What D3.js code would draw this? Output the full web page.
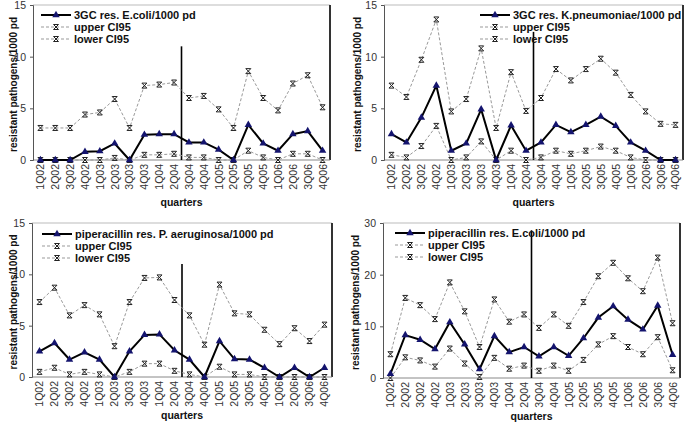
<!DOCTYPE html>
<html><head><meta charset="utf-8">
<script src="https://cdn.jsdelivr.net/npm/d3@7"></script>
<style>body{margin:0;background:#fff}svg{display:block;font-family:"Liberation Sans",Arial,sans-serif}</style>
</head><body>
<svg id="c" width="685" height="424"></svg>
<script>
const quarters = ["1Q02","2Q02","3Q02","4Q02","1Q03","2Q03","3Q03","4Q03","1Q04","2Q04","3Q04","4Q04","1Q05","2Q05","3Q05","4Q05","1Q06","2Q06","3Q06","4Q06"];

const titles = ["3GC res. E.coli/1000 pd","3GC res. K.pneumoniae/1000 pd","piperacillin res. P. aeruginosa/1000 pd","piperacillin res. E.coli/1000 pd"];
const yTicks = [[0,5,10,15],[0,5,10,15],[0,5,10,15],[0,10,20,30]];
const yMax = [15,15,15,30];
const interventionTop = [11,12.4,11,28.6];

const mainEcoli3GC = [0,0,0,0.8,0.85,1.6,0,2.45,2.5,2.5,1.7,1.7,1.0,0,3.4,1.6,0.9,2.5,2.8,0.9];
const upperEcoli3GC = [3.1,3.1,3.1,4.4,4.6,5.9,3.1,7.2,7.3,7.5,6.0,6.2,4.9,3.1,8.6,6.0,4.8,7.4,8.2,5.1];
const lowerEcoli3GC = [0,0,0,0,0,0.2,0,0.5,0.5,0.6,0.25,0.25,0,0,0.9,0.25,0,0.6,0.6,0];

const mainKpn = [2.5,1.7,4.1,7.2,0.9,1.6,4.9,0,3.35,0.9,1.7,3.4,2.7,3.4,4.2,3.3,1.7,0.9,0,0];
const upperKpn = [7.2,6.1,9.7,13.6,4.7,5.9,10.8,3.1,8.5,4.75,6.0,8.8,7.7,8.8,9.8,8.45,6.3,4.7,3.5,3.4];
const lowerKpn = [0.5,0.25,1.35,3.3,0,0.25,1.8,0,0.9,0,0.25,0.9,0.6,0.9,1.3,0.9,0.25,0,0,0];

const mainPae = [2.5,3.3,1.7,2.4,1.7,0,2.5,4.1,4.15,2.6,1.7,0,3.5,1.75,1.7,0.9,0,0.9,0,0.9];
const upperPae = [7.3,8.7,6.0,7.0,6.1,3.0,7.3,9.65,9.7,7.5,6.0,3.15,9.0,6.2,6.1,4.6,3.2,4.75,3.5,5.1];
const lowerPae = [0.5,0.9,0.25,0.5,0.25,0,0.5,1.3,1.3,0.6,0.25,0,1.0,0.25,0.25,0,0,0,0,0];

const mainEcoliPip = [0.8,8.3,7.4,5.6,10.8,6.5,1.7,8.1,5.0,6.0,4.2,6.0,4.3,7.7,11.7,13.9,11.3,9.4,14.0,4.5];
const upperEcoliPip = [4.6,15.5,14.1,11.4,18.5,12.9,6.0,15.2,10.9,12.3,9.7,12.3,10.1,14.7,19.7,22.3,19.3,16.8,23.3,10.6];
const lowerEcoliPip = [0,4.0,3.4,2.2,5.7,2.8,0.2,3.9,1.8,2.4,1.4,2.4,1.4,3.5,6.5,8.1,6.0,4.6,7.9,1.5];

const mainSeries = [mainEcoli3GC, mainKpn, mainPae, mainEcoliPip];
const upperSeries = [upperEcoli3GC, upperKpn, upperPae, upperEcoliPip];
const lowerSeries = [lowerEcoli3GC, lowerKpn, lowerPae, lowerEcoliPip];

const boxes = [
  {l:33,t:5,r:330,b:160, lx:41, ly:15, yt:13, xt:202},
  {l:384,t:5,r:683,b:160, lx:480, ly:15, yt:357, xt:202},
  {l:32,t:223,r:332,b:377, lx:42, ly:234, yt:13, xt:415},
  {l:383,t:223,r:680,b:378, lx:395, ly:233, yt:355, xt:416}
];

const svg = d3.select("#c");
const starPath = (s) => `M${-s},${-s}L${s},${s}M${-s},${s}L${s},${-s}M${-s},${-s}L${s},${-s}M${-s},${s}L${s},${s}`;

boxes.forEach((bx, p) => {
  const g = svg.append("g");
  const x = d3.scalePoint().domain(quarters).range([bx.l, bx.r]).padding(0.5);
  const y = d3.scaleLinear().domain([0, yMax[p]]).range([bx.b, bx.t]);

  // frame
  g.append("line").attr("x1",bx.l).attr("x2",bx.r).attr("y1",bx.t).attr("y2",bx.t).attr("stroke","#bbb").attr("stroke-width",1);
  g.append("line").attr("x1",bx.r).attr("x2",bx.r).attr("y1",bx.t).attr("y2",bx.b).attr("stroke","#333").attr("stroke-width",2);
  g.append("line").attr("x1",bx.l).attr("x2",bx.r).attr("y1",bx.b).attr("y2",bx.b).attr("stroke","#888").attr("stroke-width",1);

  // y axis
  const ya = g.append("g").attr("transform",`translate(${bx.l},0)`)
    .call(d3.axisLeft(y).tickValues(yTicks[p]).tickSize(3).tickPadding(4));
  ya.select(".domain").attr("stroke","#555");
  ya.selectAll(".tick line").attr("stroke","#555");
  ya.selectAll("text").attr("font-size",10.5).attr("fill","#333").attr("font-family","Liberation Sans, Arial, sans-serif");

  // x axis labels
  const xa = g.append("g").attr("transform",`translate(0,${bx.b})`)
    .call(d3.axisBottom(x).tickSize(0).tickPadding(0));
  xa.select(".domain").remove();
  xa.selectAll("text").attr("font-size",10.5).attr("fill","#333").attr("font-family","Liberation Sans, Arial, sans-serif")
    .attr("transform","rotate(-90)").attr("text-anchor","end").attr("dx","-4").attr("dy","0.33em").attr("y",0).attr("x",0);

  // axis titles
  g.append("text").attr("transform",`translate(${bx.yt},${(bx.t+bx.b)/2+2}) rotate(-90)`).attr("text-anchor","middle")
    .attr("dy","0.35em").attr("font-size",10).attr("font-weight","bold").attr("fill","#111").text("resistant pathogens/1000 pd");
  g.append("text").attr("x",(bx.l+bx.r)/2).attr("y",bx.xt).attr("text-anchor","middle").attr("dy","0.35em")
    .attr("font-size",10.5).attr("font-weight","bold").attr("fill","#111").text("quarters");

  // intervention line
  const xv = (x(quarters[9]) + x(quarters[10]))/2;
  g.append("line").attr("x1",xv).attr("x2",xv).attr("y1",y(interventionTop[p])).attr("y2",bx.b).attr("stroke","#000").attr("stroke-width",1.6);

  const line = d3.line().x((d,i)=>x(quarters[i])).y(d=>y(d));
  [lowerSeries[p], upperSeries[p]].forEach(s => {
    g.append("path").attr("d",line(s)).attr("fill","none").attr("stroke","#999").attr("stroke-width",1).attr("stroke-dasharray","3,2");
    g.selectAll(null).data(s).enter().append("path")
      .attr("transform",(d,i)=>`translate(${x(quarters[i])},${y(d)})`)
      .attr("d",starPath(2.5)).attr("stroke","#222").attr("stroke-width",1).attr("fill","none");
  });
  g.append("path").attr("d",line(mainSeries[p])).attr("fill","none").attr("stroke","#000").attr("stroke-width",2);
  g.selectAll(null).data(mainSeries[p]).enter().append("path")
    .attr("transform",(d,i)=>`translate(${x(quarters[i])},${y(d)})`)
    .attr("d",d3.symbol(d3.symbolTriangle,24)).attr("fill","#14146e");

  // legend
  const L = 30;
  const lg = g.append("g");
  lg.append("line").attr("x1",bx.lx).attr("x2",bx.lx+L).attr("y1",bx.ly).attr("y2",bx.ly).attr("stroke","#000").attr("stroke-width",2);
  lg.append("path").attr("transform",`translate(${bx.lx+L/2},${bx.ly})`).attr("d",d3.symbol(d3.symbolTriangle,24)).attr("fill","#14146e");
  lg.append("text").attr("x",bx.lx+L+3).attr("y",bx.ly).attr("dy","0.35em").attr("font-size",11).attr("font-weight","bold").attr("fill","#111").text(titles[p]);
  ["upper CI95","lower CI95"].forEach((t,k) => {
    const yy = bx.ly + 12*(k+1);
    lg.append("line").attr("x1",bx.lx).attr("x2",bx.lx+L).attr("y1",yy).attr("y2",yy).attr("stroke","#999").attr("stroke-dasharray","3,2");
    lg.append("path").attr("transform",`translate(${bx.lx+L/2},${yy})`).attr("d",starPath(2.5)).attr("stroke","#222").attr("fill","none");
    lg.append("text").attr("x",bx.lx+L+3).attr("y",yy).attr("dy","0.35em").attr("font-size",11).attr("font-weight","bold").attr("fill","#111").text(t);
  });
});
</script>
</body></html>
